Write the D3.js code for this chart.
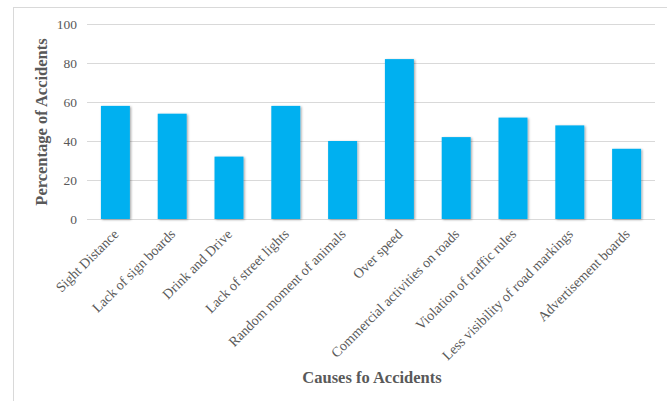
<!DOCTYPE html>
<html><head><meta charset="utf-8">
<script src="https://cdn.jsdelivr.net/npm/d3@7"></script>
<style>body{margin:0;background:#fff}</style>
</head><body>
<svg id="c" width="667" height="401"></svg>
<script>
const categories = ["Sight Distance","Lack of sign boards","Drink and Drive","Lack of street lights","Random moment of animals","Over speed","Commercial activities on roads","Violation of traffic rules","Less visibility of road markings","Advertisement boards"];
const values = [58,54,32,58,40,82,42,52,48,36];
const yTicks = [0,20,40,60,80,100];
const yTitle = "Percentage of Accidents";
const xTitle = "Causes fo Accidents";

const svg = d3.select("#c");
const font = "'Liberation Serif','Times New Roman',serif";
svg.append("rect").attr("x",13.5).attr("y",7.5).attr("width",700).attr("height",420)
  .attr("fill","#fff").attr("stroke","#d9d9d9");

const x = d3.scaleBand().domain(categories).range([87,655]).paddingInner(0.49).paddingOuter(0.245);
const y = d3.scaleLinear().domain([0,100]).range([219,24]);

const defs = svg.append("defs");
const f = defs.append("filter").attr("id","sh").attr("x","-20%").attr("y","-5%").attr("width","150%").attr("height","120%");
f.append("feDropShadow").attr("dx",1.2).attr("dy",0.8).attr("stdDeviation",0.9).attr("flood-color","#000").attr("flood-opacity",0.35);

const g = svg.append("g");
g.selectAll(".grid").data(yTicks).join("line")
  .attr("x1",87).attr("x2",655).attr("y1",d=>Math.round(y(d))+0.5).attr("y2",d=>Math.round(y(d))+0.5)
  .attr("stroke","#d9d9d9").attr("stroke-width",1);

g.selectAll(".bar").data(values).join("rect")
  .attr("x",(d,i)=>x(categories[i])).attr("width",x.bandwidth())
  .attr("y",d=>y(d)).attr("height",d=>y(0)-y(d))
  .attr("fill","#00b0f0").attr("filter","url(#sh)");

const yAxis = d3.axisLeft(y).tickValues(yTicks).tickSize(0).tickPadding(10);
const ya = svg.append("g").attr("transform","translate(87,0)").call(yAxis);
ya.select(".domain").remove();
ya.selectAll("text").attr("font-family",font).attr("font-size",13.5).attr("fill","#595959");

const xAxis = d3.axisBottom(x).tickSize(0).tickPadding(0);
const xa = svg.append("g").attr("transform","translate(0,219)").call(xAxis);
xa.select(".domain").remove();
xa.selectAll("text").attr("font-family",font).attr("font-size",14).attr("fill","#595959")
  .attr("text-anchor","end").attr("dy",0)
  .attr("transform","translate(4,16) rotate(-45)");

svg.append("text").attr("transform","translate(47,122) rotate(-90)")
  .attr("text-anchor","middle").attr("font-family",font).attr("font-size",16.5).attr("font-weight","bold")
  .attr("fill","#595959").text(yTitle);
svg.append("text").attr("x",372).attr("y",383)
  .attr("text-anchor","middle").attr("font-family",font).attr("font-size",16.5).attr("font-weight","bold")
  .attr("fill","#595959").text(xTitle);
</script>
</body></html>
